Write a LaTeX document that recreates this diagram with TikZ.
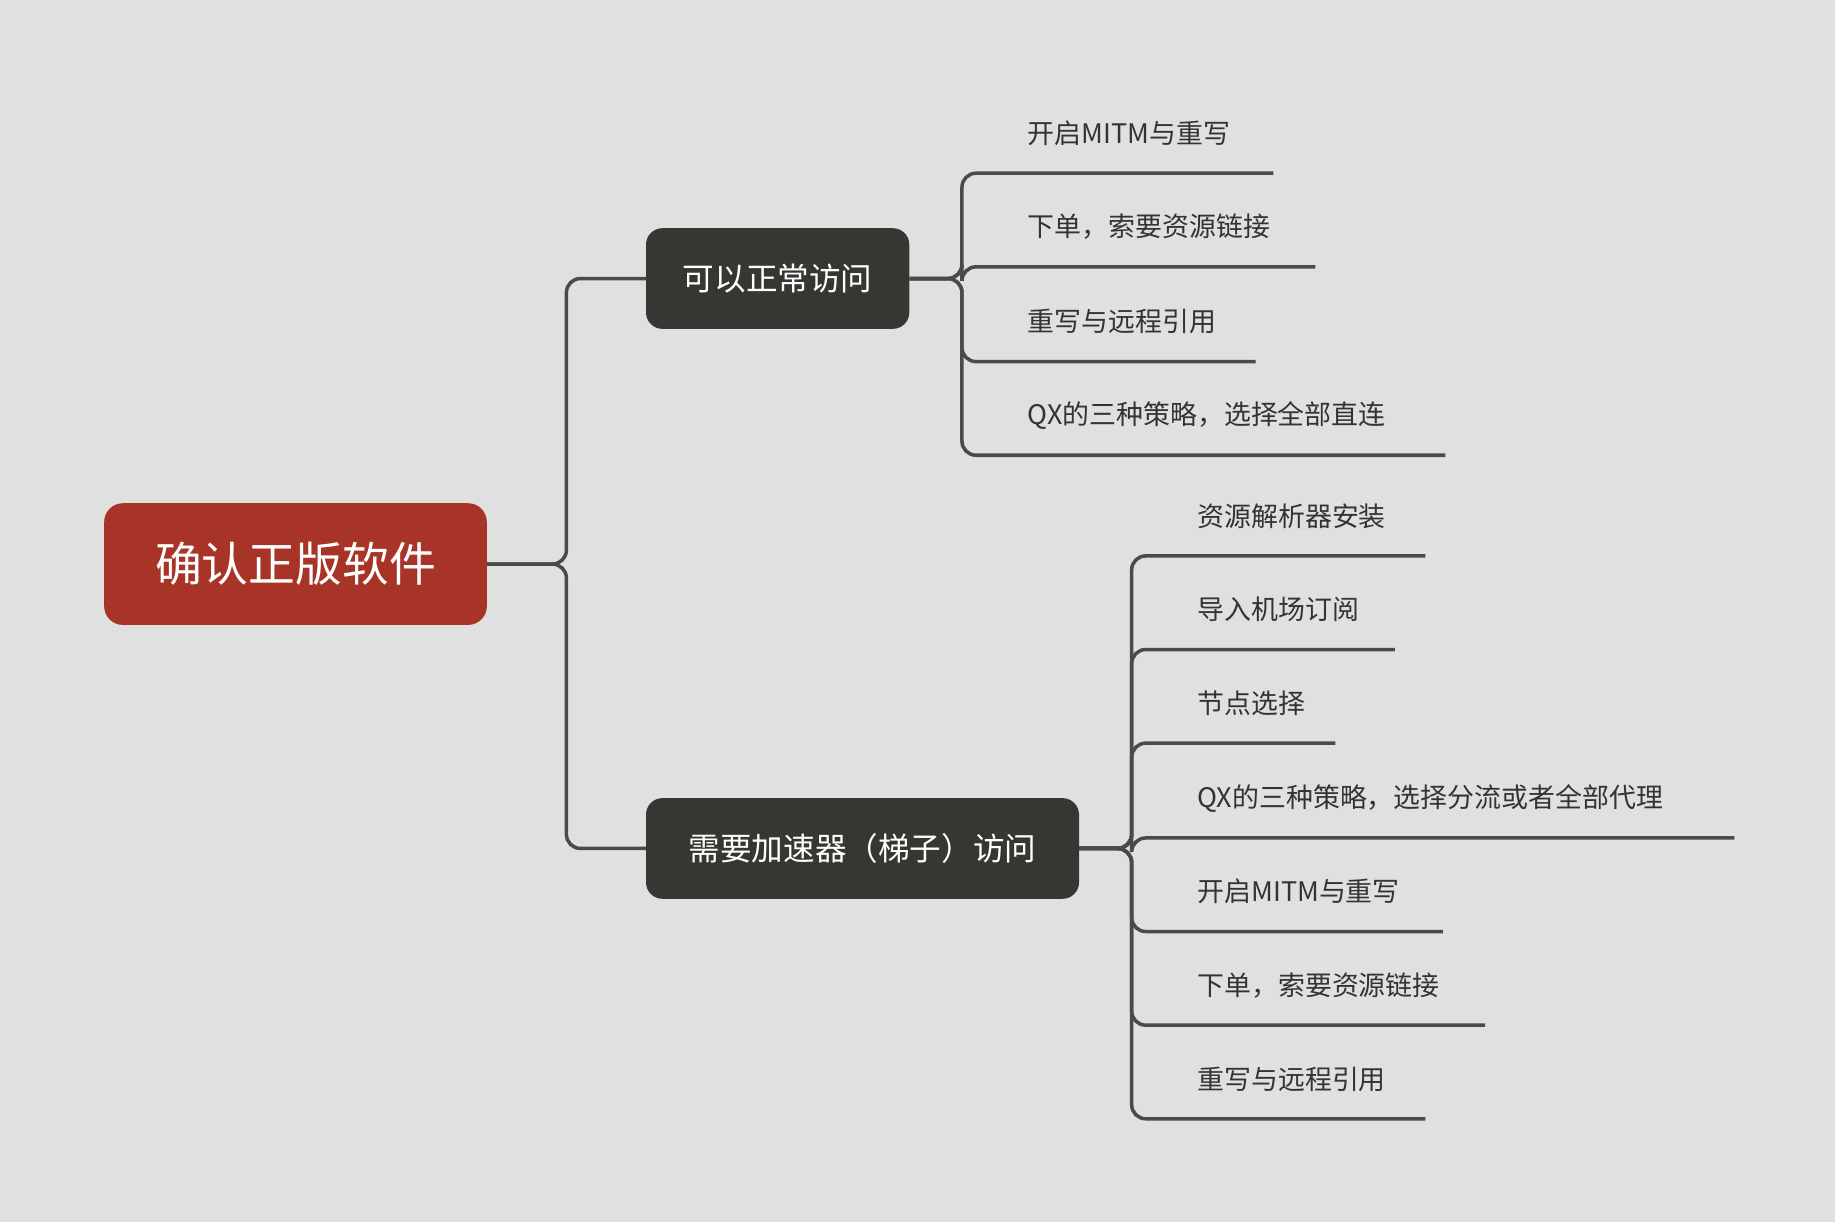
\documentclass[tikz,border=0pt]{standalone}
\usepackage{fontspec}
\setmainfont{Noto Sans CJK SC}
\definecolor{bg}{HTML}{E0E0E0}
\definecolor{rootc}{HTML}{A83427}
\definecolor{topc}{HTML}{363632}
\definecolor{linec}{HTML}{4A4A4A}
\definecolor{txt}{HTML}{333333}
\begin{document}
\begin{tikzpicture}[x=1pt,y=-1pt,
  link/.style={draw=linec,line width=3pt,rounded corners=12pt},
  rootbox/.style={fill=rootc,rounded corners=16pt,text=white,inner sep=0pt,font=\fontsize{40}{46}\selectfont},
  topbox/.style={fill=topc,rounded corners=14pt,text=white,inner sep=0pt,font=\fontsize{27}{32}\selectfont},
  leaf/.style={anchor=west,text=txt,inner sep=0pt,font=\fontsize{23}{28}\selectfont}]
\fill[bg] (0,0) rectangle (1568,1044);
\useasboundingbox (0,0) rectangle (1568,1044);
\node[rootbox,minimum width=327pt,minimum height=104pt] (root) at (252.5,482) {确认正版软件};
\node[topbox,minimum width=225pt,minimum height=86pt] (a) at (664.5,238) {可以正常访问};
\node[topbox,minimum width=370pt,minimum height=86pt] (b) at (737,725) {需要加速器（梯子）访问};
\draw[link] (root.east) -- (484,482) |- (a.west);
\draw[link] (root.east) -- (484,482) |- (b.west);
\foreach \n/\y/\e/\t in {a1/148/1088/开启MITM与重写, a2/228/1124/下单，索要资源链接, a3/309/1073/重写与远程引用, a4/389/1235/QX的三种策略，选择全部直连}{
  \node[leaf] (\n) at (878,\y-34) {\t};
  \coordinate (\n e) at (\e,\y);
  \draw[link] (a.east) -- (822,238) |- (\n e);
}
\foreach \n/\y/\e/\t in {b1/475/1218/资源解析器安装, b2/555/1192/导入机场订阅, b3/635/1141/节点选择, b4/716/1482/QX的三种策略，选择分流或者全部代理, b5/796/1233/开启MITM与重写, b6/876/1269/下单，索要资源链接, b7/956/1218/重写与远程引用}{
  \node[leaf] (\n) at (1023,\y-34) {\t};
  \coordinate (\n e) at (\e,\y);
  \draw[link] (b.east) -- (967,725) |- (\n e);
}
\end{tikzpicture}
\end{document}
